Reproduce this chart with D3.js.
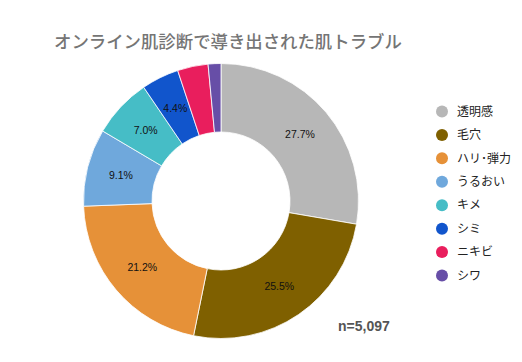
<!DOCTYPE html>
<html lang="ja">
<head>
<meta charset="UTF-8">
<title>オンライン肌診断で導き出された肌トラブル</title>
<script src="https://d3js.org/d3.v7.min.js"></script>
<style>
  body { margin: 0; background: #fff; }
  svg { display: block; }
</style>
</head>
<body>
<svg id="chart" width="522" height="362"></svg>
<script>
// data
var categories = ["透明感", "毛穴", "ハリ･弾力", "うるおい", "キメ", "シミ", "ニキビ", "シワ"];
var shares = [27.7, 25.5, 21.2, 9.1, 7.0, 4.4, 3.6, 1.5];
var colors = ["#b7b7b7", "#7f6000", "#e69138", "#6fa8dc", "#46bdc6", "#1155cc", "#e91e5d", "#674ea7"];
var titleText = "オンライン肌診断で導き出された肌トラブル";
var noteText = "n=5,097";

var svg = d3.select("#chart");
var jp = "'Noto Sans CJK JP', 'Noto Sans', sans-serif";

// title
svg.append("text")
    .attr("x", 54)
    .attr("y", 48)
    .attr("fill", "#757575")
    .style("font-family", jp)
    .style("font-size", "17.4px")
    .style("font-weight", "500")
    .text(titleText);

var cx = 221, cy = 201, outerR = 137.5, innerR = 69;
var color = d3.scaleOrdinal().domain(categories).range(colors);

var items = categories.map(function(c, i) { return { name: c, value: shares[i] }; });
var pie = d3.pie().sort(null).value(function(d) { return d.value; });
var arc = d3.arc().innerRadius(innerR).outerRadius(outerR);
var labelArc = d3.arc().innerRadius((innerR + outerR) / 2).outerRadius((innerR + outerR) / 2);

var g = svg.append("g").attr("transform", "translate(" + cx + "," + cy + ")");

g.selectAll("path")
    .data(pie(items))
    .enter().append("path")
    .attr("d", arc)
    .attr("fill", function(d) { return color(d.data.name); })
    .attr("stroke", "#fff")
    .attr("stroke-width", 0.8);

// slice labels (small slices hidden)
g.selectAll("text.lbl")
    .data(pie(items).filter(function(d) { return d.data.value >= 4; }))
    .enter().append("text")
    .attr("class", "lbl")
    .attr("transform", function(d) { return "translate(" + labelArc.centroid(d) + ")"; })
    .attr("text-anchor", "middle")
    .attr("dy", "0.35em")
    .style("font-family", "'Liberation Sans', Arial, sans-serif")
    .style("font-size", "10.5px")
    .attr("fill", "#111")
    .text(function(d) { return d.data.value.toFixed(1) + "%"; });

// legend
var ly = d3.scalePoint().domain(categories).range([111.5, 275.5]);
var legend = svg.append("g");
var entry = legend.selectAll("g")
    .data(categories)
    .enter().append("g")
    .attr("transform", function(d) { return "translate(442," + ly(d) + ")"; });
entry.append("circle")
    .attr("r", 6)
    .attr("fill", function(d) { return color(d); });
entry.append("text")
    .attr("x", 15)
    .attr("dy", "0.35em")
    .attr("fill", "#222")
    .style("font-family", jp)
    .style("font-size", "12px")
    .text(function(d) { return d; });

// sample size note
svg.append("text")
    .attr("x", 338)
    .attr("y", 331)
    .attr("fill", "#555")
    .style("font-family", "'Liberation Sans', Arial, sans-serif")
    .style("font-size", "14px")
    .style("font-weight", "bold")
    .text(noteText);
</script>
</body>
</html>
